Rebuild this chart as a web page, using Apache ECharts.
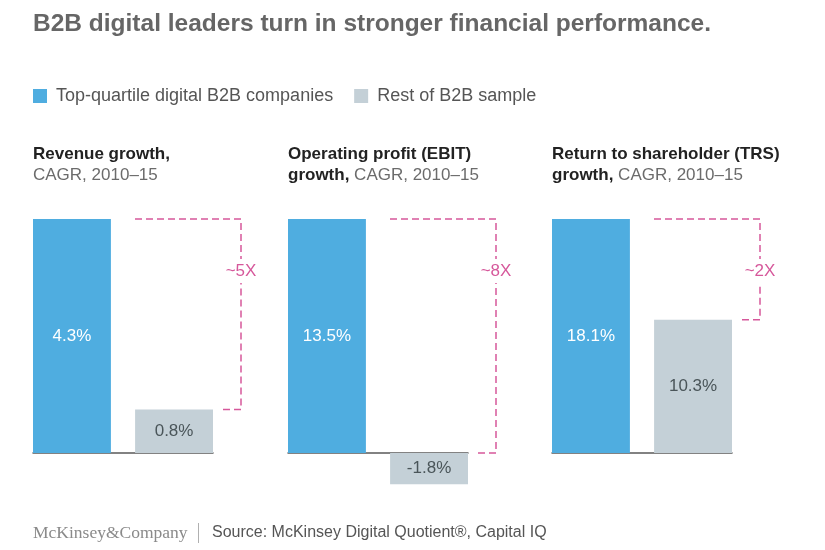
<!DOCTYPE html>
<html>
<head>
<meta charset="utf-8">
<script src="https://cdn.jsdelivr.net/npm/echarts@6/dist/echarts.min.js"></script>
<style>
html,body{margin:0;padding:0;background:#fff;}
#chart{width:825px;height:550px;}
</style>
</head>
<body>
<div id="chart"></div>
<script>
// ---- data ----
var seriesNames = ['Top-quartile digital B2B companies', 'Rest of B2B sample'];
var panelTitles = [
  ['{b|Revenue growth,}', '{n|CAGR, 2010–15}'],
  ['{b|Operating profit (EBIT)}', '{b|growth,}{n| CAGR, 2010–15}'],
  ['{b|Return to shareholder (TRS)}', '{b|growth,}{n| CAGR, 2010–15}']
];
var topQuartile = [4.3, 13.5, 18.1];
var restOfSample = [0.8, -1.8, 10.3];
var multipliers = ['~5X', '~8X', '~2X'];

// ---- styles ----
var BLUE = '#4fade0', GREY = '#c4d0d7', PINK = '#d6589b';
var FONT = '"Liberation Sans", Arial, Helvetica, sans-serif';
var panelLeft = [33, 288, 552];
var BAR_W = 78;

var chart = echarts.init(document.getElementById('chart'));

var grids = [], xAxes = [], yAxes = [], series = [], titles = [];
titles.push({
  text: 'B2B digital leaders turn in stronger financial performance.',
  left: 33, top: 12, padding: 0,
  textStyle: {fontFamily: FONT, fontSize: 24.5, fontWeight: 'bold', color: '#666666'}
});

for (var i = 0; i < 3; i++) {
  var minV = Math.min(0, restOfSample[i]);
  var maxV = topQuartile[i];
  var h = 234 * (maxV - minV) / maxV;
  grids.push({left: panelLeft[i], top: 219, width: 180, height: h});
  xAxes.push({
    type: 'category', gridIndex: i, data: ['x'],
    axisLine: {show: true, onZero: true, lineStyle: {color: '#5a5a5a', width: 1.5}},
    axisTick: {show: false}, axisLabel: {show: false}, splitLine: {show: false}
  });
  yAxes.push({
    type: 'value', gridIndex: i, min: minV, max: maxV, show: false,
    splitLine: {show: false}
  });
  titles.push({
    text: panelTitles[i].join('\n'),
    left: panelLeft[i], top: 144, padding: 0,
    textStyle: {
      fontFamily: FONT, fontSize: 17, lineHeight: 21, fontWeight: 'normal',
      rich: {
        b: {fontFamily: FONT, fontSize: 17, fontWeight: 'bold', color: '#222222', lineHeight: 21},
        n: {fontFamily: FONT, fontSize: 17, fontWeight: 'normal', color: '#6b6b6b', lineHeight: 21}
      }
    }
  });
  series.push({
    name: seriesNames[0], type: 'bar', xAxisIndex: i, yAxisIndex: i,
    data: [topQuartile[i]], barWidth: BAR_W, barGap: '31%', barCategoryGap: 0,
    itemStyle: {color: BLUE},
    label: {show: true, position: 'inside', color: '#ffffff', fontFamily: FONT, fontSize: 17,
      formatter: function (p) { return p.value.toFixed(1) + '%'; }},
    emphasis: {disabled: true}, animation: false
  });
  series.push({
    name: seriesNames[1], type: 'bar', xAxisIndex: i, yAxisIndex: i,
    data: [restOfSample[i]], barWidth: BAR_W, barGap: '31%', barCategoryGap: 0,
    itemStyle: {color: GREY},
    label: {show: true, position: 'inside', color: '#4a5559', fontFamily: FONT, fontSize: 17,
      formatter: function (p) { return p.value.toFixed(1) + '%'; }},
    emphasis: {disabled: true}, animation: false
  });
  series.push({
    type: 'custom', xAxisIndex: i, yAxisIndex: i, clip: false, silent: true,
    data: [[0, topQuartile[i], restOfSample[i], multipliers[i]]],
    renderItem: function (params, api) {
      var top = api.coord([api.value(0), api.value(1)]);
      var low = api.coord([api.value(0), Math.max(0, api.value(2))]);
      var band = api.size([1, 0])[0];
      var cx = top[0];
      var greyRight = cx + band / 2;
      var greyLeft = greyRight - BAR_W;
      var bx = greyRight + 28;
      var ly = top[1] + 52;
      var style = {stroke: PINK, lineWidth: 1.5, lineDash: [7, 4], fill: null};
      return {
        type: 'group',
        children: [
          {type: 'polyline', shape: {points: [[greyLeft, top[1]], [bx, top[1]], [bx, ly - 12]]}, style: style},
          {type: 'polyline', shape: {points: [[greyRight + 10, low[1]], [bx, low[1]], [bx, ly + 12]]}, style: style},
          {type: 'text', x: bx, y: ly,
            style: {text: api.value(3), fill: PINK, font: '17px ' + FONT, align: 'center', verticalAlign: 'middle'}}
        ]
      };
    },
    animation: false
  });
}

var option = {
  backgroundColor: '#ffffff',
  animation: false,
  title: titles,
  legend: {
    data: seriesNames, left: 28, top: 82, icon: 'rect', itemWidth: 14, itemHeight: 14, itemGap: 21,
    selectedMode: false,
    textStyle: {fontFamily: FONT, fontSize: 18, color: '#555555', padding: [0, 0, 0, 4]}
  },
  grid: grids, xAxis: xAxes, yAxis: yAxes, series: series,
  graphic: [
    {type: 'text', left: 33, top: 524, style: {text: 'McKinsey&Company', fill: '#8a8a8a', font: '17.5px "Liberation Serif", "DejaVu Serif", serif'}},
    {type: 'rect', left: 198, top: 523, shape: {width: 1, height: 20}, style: {fill: '#b0b0b0'}},
    {type: 'text', left: 212, top: 525, style: {text: 'Source: McKinsey Digital Quotient®, Capital IQ', fill: '#555555', font: '16px ' + FONT}}
  ]
};
chart.setOption(option);
</script>
</body>
</html>
